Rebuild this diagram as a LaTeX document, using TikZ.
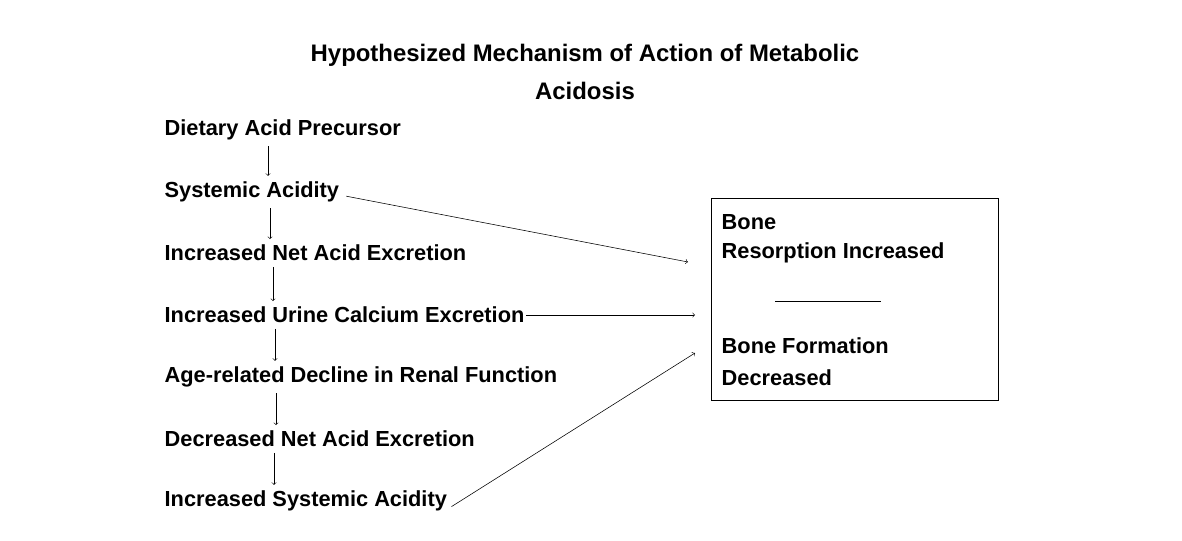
\documentclass[tikz,border=0pt]{standalone}
\usepackage{fontspec}
\setmainfont{Liberation Sans}
\begin{document}
\begin{tikzpicture}[x=0.025cm,y=-0.025cm,
  item/.style={anchor=west,inner sep=1pt,font=\fontsize{15.5}{18}\selectfont\bfseries},
  down/.style={->,>=to,thin,shorten >=3pt,shorten <=3pt},
  link/.style={->,>=to,thin}]
\useasboundingbox (0,0) rectangle (1182,540);
% title
\node[align=center,font=\fontsize{17}{26.5}\selectfont\bfseries] (title) at (585,72)
  {Hypothesized Mechanism of Action of Metabolic\\Acidosis};
% chain
\node[item] (diet) at (163,130) {Dietary Acid Precursor};
\node[item] (sys) at (163,192) {Systemic Acidity};
\node[item] (net) at (163,253) {Increased Net Acid Excretion};
\node[item] (urine) at (163,315) {Increased Urine Calcium Excretion};
\node[item] (age) at (163,377) {Age-related Decline in Renal Function};
\node[item] (dec) at (163,439) {Decreased Net Acid Excretion};
\node[item] (incsys) at (163,501) {Increased Systemic Acidity};
\draw[down] ([xshift=105*0.025cm]diet.south west) -- ([xshift=105*0.025cm]sys.north west);
\draw[down] ([xshift=107*0.025cm]sys.south west) -- ([xshift=107*0.025cm]net.north west);
\draw[down] ([xshift=110*0.025cm]net.south west) -- ([xshift=110*0.025cm]urine.north west);
\draw[down] ([xshift=112*0.025cm]urine.south west) -- ([xshift=112*0.025cm]age.north west);
\draw[down] ([xshift=113*0.025cm]age.south west) -- ([xshift=113*0.025cm]dec.north west);
\draw[down] ([xshift=111*0.025cm]dec.south west) -- ([xshift=111*0.025cm]incsys.north west);
% bone box
\node[draw,thin,minimum width=287*0.025cm,minimum height=202*0.025cm] (box) at (854.5,299) {};
\node[item] (b1) at (720,222) {Bone};
\node[item] (b2) at (720,253) {Resorption Increased};
\node[item] (b3) at (720,346) {Bone Formation};
\node[item] (b4) at (720,378) {Decreased};
\coordinate (la) at (775,301);
\coordinate (lb) at (881,301);
\draw[thin] (la) -- (lb);
\coordinate (t1) at (688,262);
\coordinate (t2) at (695,315);
\coordinate (t3) at (695,353);
\draw[link] ([xshift=4pt,yshift=-3pt]sys.east) -- (t1);
\draw[link] (urine.east) -- (t2);
\draw[link] ([xshift=2pt,yshift=-4pt]incsys.east) -- (t3);
\end{tikzpicture}
\end{document}
